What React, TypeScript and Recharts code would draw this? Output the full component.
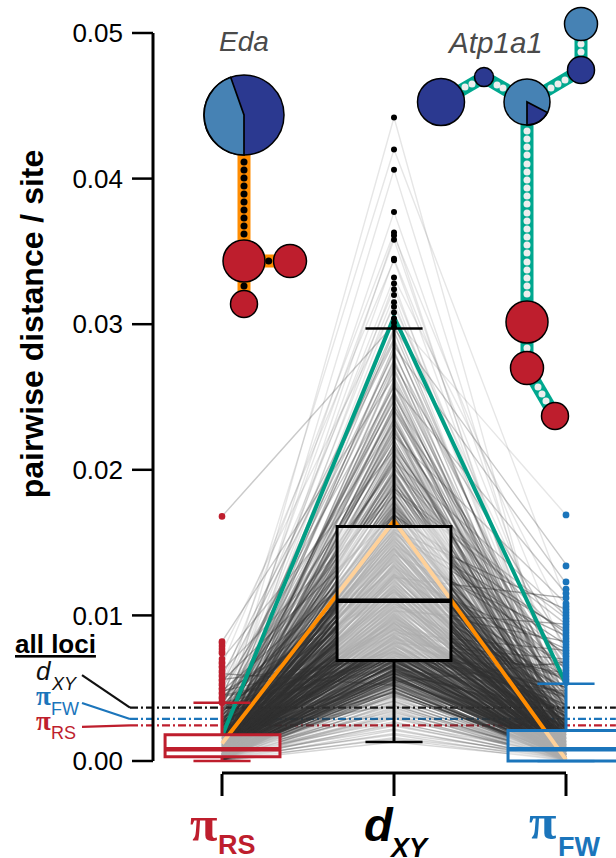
import {
	ComposedChart,
	Line,
	ReferenceArea,
	ReferenceLine,
	Scatter,
	XAxis,
	YAxis,
} from "recharts";

// all distances are in units of 1e-4 per site, the axis formats them back
const yTicks = [0, 100, 200, 300, 400, 500];
const xTicks = [0, 1, 2];

// one value per locus, same order in the three lists
const locusDxy = [
	13, 15, 16, 18, 19, 21, 22, 24, 25, 26, 27, 29, 30, 31, 32, 33, 34, 36, 37, 38,
	39, 40, 41, 42, 43, 44, 45, 46, 47, 48, 49, 50, 50, 51, 52, 53, 54, 54, 55, 56,
	56, 57, 58, 58, 59, 60, 60, 61, 62, 62, 63, 63, 64, 65, 65, 66, 66, 67, 68, 69,
	69, 70, 71, 72, 73, 74, 75, 75, 76, 77, 78, 79, 80, 81, 81, 82, 83, 84, 85, 86,
	86, 87, 88, 89, 90, 90, 91, 92, 93, 94, 95, 95, 96, 97, 98, 99, 100, 100, 101, 102,
	103, 104, 105, 105, 106, 107, 108, 109, 110, 110, 111, 112, 113, 114, 115, 116, 117, 118, 119, 120,
	121, 122, 123, 124, 125, 126, 127, 128, 129, 130, 131, 132, 133, 134, 135, 136, 137, 138, 139, 140,
	141, 142, 143, 144, 145, 146, 147, 148, 149, 150, 151, 152, 153, 154, 155, 156, 157, 158, 159, 161,
	162, 163, 165, 166, 168, 169, 171, 172, 174, 175, 177, 178, 180, 182, 183, 185, 187, 188, 190, 192,
	194, 196, 198, 200, 202, 204, 206, 208, 211, 213, 215, 218, 220, 223, 226, 229, 232, 235, 238, 241,
	244, 247, 250, 253, 257, 260, 264, 268, 272, 276, 280, 285, 290, 295, 297, 300, 304, 308, 312, 315,
	320, 324, 328, 332, 344, 345, 358, 361, 363, 377, 406, 420, 442,
	35, 58, 72, 44, 91, 63, 80, 52, 104, 67, 76, 48, 97, 59, 85, 41, 112, 70, 88, 55,
	118, 74, 61, 95, 83, 126, 66, 101, 47, 78, 134, 57, 92, 71, 109, 64, 86, 142, 53, 99,
	149, 68, 115, 81, 38, 127, 94, 60, 138, 73, 106, 50, 156, 84, 121, 65, 90, 145, 77, 111,
	170, 89, 130, 62, 152, 98, 75, 164, 108, 82, 140, 56, 178, 93, 124, 69, 158, 103, 87, 147,
	186, 96, 135, 79, 167, 113, 60, 195, 122, 72, 155, 100, 204, 83, 144, 66, 175, 117, 91, 160,
	212, 105, 150, 74, 183, 128, 86, 224, 119, 68, 169, 95, 236, 110, 141, 78, 198, 132, 63, 173,
	248, 125, 81, 190, 154, 70, 262, 136, 97, 208, 116, 58, 274, 146, 88, 221, 129, 76, 288, 163,
	102, 240, 139, 71, 201, 120, 92, 176, 61, 230, 148, 84, 193, 107, 67, 216, 133, 79, 181, 157,
	258, 143, 90, 228, 112, 54, 205, 166, 75, 244, 127, 98, 187, 64, 270, 151, 85, 218, 123, 73,
	110, 197, 62, 172, 137, 82, 254, 101, 159, 69, 210, 118, 94, 184, 77, 234, 131, 56, 168, 106,
	282, 96, 153, 71, 226, 114, 87, 199, 65, 162, 126, 80, 242, 108, 52, 179, 142, 93, 214, 120,
	74, 191, 134, 60, 252, 103, 165, 85, 207, 116, 68, 174, 146, 91, 232, 57, 128, 78, 188, 99,
];
const locusRS = [
	0, 1, 0, 2, 1, 0, 3, 1, 2, 0, 4, 1, 2, 3, 0, 1, 5, 2, 1, 3,
	2, 0, 4, 1, 6, 3, 1, 2, 8, 0, 3, 5, 2, 1, 7, 4, 2, 9, 1, 3,
	3, 6, 1, 10, 2, 4, 8, 0, 5, 12, 3, 1, 7, 2, 14, 4, 6, 1, 9, 3,
	5, 2, 11, 3, 8, 1, 15, 6, 4, 2, 18, 7, 3, 10, 1, 5, 22, 4, 9, 2,
	6, 3, 13, 1, 8, 20, 4, 10, 2, 16, 5, 7, 26, 3, 12, 1, 9, 6, 19, 4,
	8, 2, 14, 5, 24, 3, 10, 7, 30, 1, 12, 6, 17, 4, 9, 36, 2, 11, 5, 21,
	7, 3, 15, 9, 28, 4, 12, 1, 18, 6, 34, 10, 2, 23, 8, 5, 44, 13, 3, 16,
	9, 5, 20, 2, 12, 31, 7, 17, 4, 26, 10, 48, 3, 14, 8, 22, 6, 38, 11, 2,
	13, 4, 24, 8, 16, 55, 3, 19, 10, 33, 6, 28, 12, 62, 5, 21, 9, 40, 15, 7,
	18, 6, 30, 11, 42, 3, 23, 14, 8, 70, 19, 5, 35, 12, 26, 9, 50, 4, 16, 27,
	10, 32, 7, 21, 46, 13, 82, 5, 25, 17, 38, 9, 58, 15, 29, 168, 6, 20, 75, 12,
	24, 44, 11, 30, 66, 18, 35, 9, 52, 26, 15, 40, 21,
	2, 5, 1, 8, 4, 0, 10, 3, 6, 1, 12, 2, 7, 0, 4, 9, 3, 1, 5, 14,
	6, 2, 9, 0, 13, 3, 7, 1, 16, 4, 0, 11, 2, 5, 8, 18, 1, 6, 3, 10,
	12, 4, 1, 7, 20, 0, 5, 14, 2, 9, 3, 6, 24, 1, 8, 11, 4, 0, 15, 2,
	7, 3, 17, 1, 10, 5, 28, 2, 12, 0, 6, 22, 4, 9, 1, 14, 3, 8, 32, 5,
	16, 2, 6, 11, 0, 24, 4, 9, 1, 19, 7, 3, 36, 5, 13, 2, 8, 0, 27, 10,
	4, 14, 1, 30, 6, 3, 18, 9, 0, 40, 5, 12, 2, 21, 7, 1, 11, 34, 3, 15,
	26, 6, 10, 2, 16, 45, 5, 1, 22, 8, 13, 3, 38, 7, 0, 18, 4, 11, 52, 6,
	9, 24, 3, 15, 1, 7, 33, 5, 12, 2, 28, 8, 17, 4, 0, 42, 10, 6, 20, 3,
	14, 6, 30, 2, 11, 4, 23, 8, 48, 1, 16, 5, 9, 36, 3, 19, 7, 1, 26, 12,
	5, 21, 2, 10, 34, 6, 15, 3, 13, 44, 0, 8, 18, 4, 27, 7, 11, 2, 31, 6,
	17, 3, 9, 56, 1, 12, 25, 5, 38, 7, 2, 20, 10, 4, 60, 15, 6, 29, 8, 1,
	11, 4, 22, 7, 16, 2, 35, 9, 5, 47, 13, 3, 26, 6, 10, 1, 19, 8, 41, 3,
];
const locusFW = [
	1, 0, 2, 0, 3, 1, 0, 2, 1, 4, 0, 3, 1, 2, 0, 5, 1, 3, 0, 2,
	0, 3, 1, 5, 2, 0, 6, 1, 4, 2, 7, 0, 3, 1, 9, 2, 5, 0, 4, 11,
	2, 1, 7, 3, 0, 13, 4, 1, 9, 2, 5, 16, 0, 6, 3, 11, 1, 8, 20, 4,
	3, 8, 1, 14, 5, 2, 10, 24, 0, 7, 4, 18, 2, 12, 6, 1, 28, 3, 9, 5,
	7, 1, 16, 4, 33, 2, 9, 12, 5, 22, 0, 8, 14, 3, 38, 6, 10, 1, 19, 4,
	2, 11, 6, 25, 3, 15, 44, 1, 8, 17, 4, 30, 10, 5, 50, 7, 13, 2, 20, 9,
	12, 4, 27, 8, 2, 18, 58, 6, 10, 35, 3, 15, 66, 5, 22, 9, 1, 42, 13, 7,
	6, 19, 3, 46, 11, 8, 24, 74, 4, 14, 32, 2, 53, 10, 16, 80, 5, 28, 7, 12,
	15, 5, 38, 9, 21, 88, 3, 26, 11, 60, 7, 18, 4, 48, 13, 94, 8, 34, 10, 23,
	10, 30, 7, 70, 16, 4, 100, 20, 42, 12, 56, 8, 27, 108, 14, 5, 36, 18, 9, 65,
	22, 6, 52, 13, 115, 9, 31, 17, 78, 4, 44, 122, 11, 25, 135, 19, 169, 7, 60, 28,
	12, 34, 8, 96, 20, 50, 15, 72, 5, 40, 26, 110, 18,
	0, 6, 2, 11, 1, 4, 15, 0, 7, 3, 9, 1, 19, 2, 5, 0, 12, 4, 23, 8,
	3, 1, 13, 5, 0, 26, 2, 9, 4, 16, 1, 7, 31, 0, 11, 6, 3, 18, 8, 2,
	10, 2, 21, 6, 1, 14, 4, 36, 0, 8, 17, 3, 12, 5, 41, 2, 9, 25, 1, 7,
	15, 4, 0, 29, 7, 11, 2, 19, 5, 46, 3, 9, 1, 34, 13, 6, 22, 0, 10, 4,
	8, 18, 3, 39, 1, 12, 6, 25, 2, 51, 9, 4, 16, 0, 30, 7, 14, 3, 57, 5,
	21, 2, 10, 44, 6, 1, 35, 13, 4, 17, 63, 8, 3, 27, 11, 0, 20, 5, 48, 9,
	12, 3, 70, 7, 24, 1, 16, 38, 5, 9, 55, 2, 28, 14, 76, 6, 19, 4, 33, 10,
	7, 42, 2, 18, 84, 5, 12, 1, 31, 8, 22, 60, 4, 15, 3, 47, 9, 26, 6, 90,
	16, 5, 37, 1, 11, 68, 8, 24, 3, 52, 13, 6, 98, 2, 20, 43, 7, 29, 10, 4,
	27, 9, 3, 72, 14, 6, 35, 1, 104, 11, 18, 4, 58, 8, 23, 2, 40, 12, 5, 82,
	6, 31, 15, 4, 64, 2, 45, 10, 25, 7, 112, 3, 19, 50, 1, 13, 86, 5, 28, 9,
	3, 54, 11, 20, 2, 94, 7, 33, 16, 1, 66, 9, 24, 5, 38, 12, 77, 4, 47, 18,
];

// the two highlighted genes: piRS, dXY, piFW
const edaValues = [12, 165, 1];
const atp1a1Values = [17, 305, 53];

// outlier dots above the whiskers
const outliersRS = [
	40, 41, 43, 44, 46, 47, 49, 50, 52, 53, 55, 56, 58, 59, 61, 62, 64, 65, 67, 68, 70,
	74, 75, 77, 79, 81, 82, 168,
];
const outliersDxy = [
	298, 301, 304, 308, 312, 315, 320, 324, 328, 332, 344, 345, 358, 361, 363, 377, 406,
	420, 442,
];
const outliersFW = [
	54, 56, 58, 60, 62, 64, 66, 68, 70, 72, 74, 76, 78, 80, 82, 84, 86, 88, 90, 92, 94,
	96, 98, 100, 102, 104, 106, 108, 112, 115, 118, 123, 134, 169,
];

// low, q1, median, q3, high for the three box plots
const boxRS = [0, 3, 8, 18, 40];
const boxDxy = [13, 69, 110, 161, 297];
const boxFW = [0, 0, 8, 21, 53];

// genome wide means in the "all loci" key
const meanDxy = 36.6;
const meanFW = 28.9;
const meanRS = 24.4;

const RED = "#BE1E2D";
const BLUE = "#1B75BB";
const INK = "#000";
const TEAL = "#009E85";
const EDGE_TEAL = "#00A88F";
const ORANGE = "#FF8C00";
const SANS = "'Liberation Sans', Arial, sans-serif";
const SYMBOL = "'Liberation Serif', serif";

const lineRows = xTicks.map((x, col) => {
	const row: Record<string, number> = {
		x,
		eda: edaValues[col],
		atp1a1: atp1a1Values[col],
	};
	const values = [locusRS, locusDxy, locusFW][col];
	values.forEach((v, i) => {
		row["l" + i] = v;
	});
	return row;
});

const dots = (x: number, values: number[]) => values.map((y) => ({ x, y }));

const lineOpacity = (d: number) =>
	d > 300 ? 0.12 : d > 170 ? 0.26 : d < 45 ? 0.2 : 0.42;

function AxisTick(props: any) {
	const { x, y, payload } = props;
	const top = y + 7;
	const labels = [
		<text key="rs" fontFamily={SANS} fill={RED} fontWeight={700}>
			<tspan x={x - 32} y={top + 67} fontFamily={SYMBOL} fontSize={50}>
				π
			</tspan>
			<tspan x={x - 4} y={top + 80} fontSize={27}>
				RS
			</tspan>
		</text>,
		<text key="dxy" fontFamily={SANS} fill={INK} fontWeight={700} fontStyle="italic">
			<tspan x={x - 30} y={top + 67} fontSize={47}>
				d
			</tspan>
			<tspan x={x - 3} y={top + 83} fontSize={27}>
				XY
			</tspan>
		</text>,
		<text key="fw" fontFamily={SANS} fill={BLUE} fontWeight={700}>
			<tspan x={x - 37} y={top + 65} fontFamily={SYMBOL} fontSize={50}>
				π
			</tspan>
			<tspan x={x - 8} y={top + 82} fontSize={27}>
				FW
			</tspan>
		</text>,
	];
	return (
		<g>
			<line x1={x} x2={x} y1={top} y2={top + 22} stroke={INK} strokeWidth={3} />
			{labels[payload.value]}
		</g>
	);
}

function Network({ edges, color, beads, beadColor, nodes }: any) {
	return (
		<g>
			{edges.map((e: number[], i: number) => (
				<line key={i} x1={e[0]} y1={e[1]} x2={e[2]} y2={e[3]} stroke={color} strokeWidth={13} />
			))}
			{beads.map((b: number[], i: number) => (
				<circle key={i} cx={b[0]} cy={b[1]} r={3.5} fill={beadColor} />
			))}
			{nodes.map((n: any[], i: number) => (
				<circle key={i} cx={n[0]} cy={n[1]} r={n[2]} fill={n[3]} stroke="#000" strokeWidth={1.5} />
			))}
		</g>
	);
}

const DARK = "#2B3990";
const STEEL = "#4682B4";

const edaBeads = [
	[244, 162], [244, 170], [244, 178], [244, 186], [244, 194], [244, 202], [244, 210], [244, 218], [244, 226], [244, 234],
	[268.7, 261], [244, 286],
];
const atpBeads = [
	[465, 87], [472, 84], [497, 85], [503, 88], [551, 88], [558, 84], [565, 80], [581, 44], [581, 52],
	[527, 131], [527, 139], [527, 147], [527, 155], [527, 164], [527, 172], [527, 180], [527, 188], [527, 196], [527, 204], [527, 213],
	[527, 221], [527, 229], [527, 237], [527, 245], [527, 253], [527, 262], [527, 270], [527, 278], [527, 286], [527, 294],
	[527, 348], [538, 387], [542, 394], [546, 401],
];

function Overlay() {
	return (
		<svg
			width={616}
			height={858}
			style={{ position: "absolute", left: 0, top: 0, pointerEvents: "none" }}
		>
			<text x={219} y={51} fontFamily={SANS} fontStyle="italic" fontSize={28} fill="#4a4a4a">
				Eda
			</text>
			<text x={449} y={53} fontFamily={SANS} fontStyle="italic" fontSize={29.6} fill="#4a4a4a">
				Atp1a1
			</text>
			<Network
				color={ORANGE}
				beadColor="#000"
				edges={[
					[244, 150, 244, 261],
					[244, 261, 290, 261],
					[244, 261, 244, 304],
				]}
				beads={edaBeads}
				nodes={[
					[244, 115, 40, DARK],
					[244, 261, 21, RED],
					[290, 261, 16.5, RED],
					[244, 304, 13.5, RED],
				]}
			/>
			<path d="M244 115 L244 155 A40 40 0 0 1 230.7 77.3 Z" fill={STEEL} stroke="#000" strokeWidth={1.7} />
			<Network
				color={EDGE_TEAL}
				beadColor="#eee"
				edges={[
					[441, 102, 484, 77],
					[484, 77, 527, 102],
					[527, 102, 581, 70],
					[581, 70, 581, 24],
					[527, 102, 527, 322],
					[527, 322, 527, 368],
					[527, 368, 555, 416],
				]}
				beads={atpBeads}
				nodes={[
					[441, 102, 23.5, DARK],
					[484, 77, 9.5, DARK],
					[527, 102, 23, STEEL],
					[581, 70, 13.5, DARK],
					[581, 24, 16.5, STEEL],
					[527, 322, 21, RED],
					[527, 368, 16.5, RED],
					[555, 416, 13.5, RED],
				]}
			/>
			<path d="M527 102 L527 125 A23 23 0 0 0 547.4 112.6 Z" fill={DARK} stroke="#000" strokeWidth={1.7} />

			<text
				transform="translate(43 324) rotate(-90)"
				textAnchor="middle"
				fontFamily={SANS}
				fontWeight={700}
				fontSize={32}
			>
				pairwise distance / site
			</text>

			<text x={15} y={653} fontFamily={SANS} fontWeight={700} fontSize={26} textDecoration="underline">
				all loci
			</text>
			<text fontFamily={SANS} fontStyle="italic" fill="#111">
				<tspan x={36} y={680} fontSize={26}>
					d
				</tspan>
				<tspan x={52} y={690} fontSize={18}>
					XY
				</tspan>
			</text>
			<text fontFamily={SANS} fill={BLUE}>
				<tspan x={36} y={705} fontFamily={SYMBOL} fontWeight={700} fontSize={27}>
					π
				</tspan>
				<tspan x={51} y={715} fontSize={18}>
					FW
				</tspan>
			</text>
			<text fontFamily={SANS} fill={RED}>
				<tspan x={36} y={730} fontFamily={SYMBOL} fontWeight={700} fontSize={27}>
					π
				</tspan>
				<tspan x={51} y={739} fontSize={18}>
					RS
				</tspan>
			</text>
		</svg>
	);
}

function boxMarks(x: number, box: number[], color: string, left: number, right: number) {
	const [low, q1, median, q3, high] = box;
	const seg = (key: string, x1: number, y1: number, x2: number, y2: number, width: number, zIndex?: number) => (
		<ReferenceLine
			key={key}
			segment={[
				{ x: x1, y: y1 },
				{ x: x2, y: y2 },
			]}
			stroke={color}
			strokeWidth={width}
			ifOverflow="visible"
			zIndex={zIndex}
		/>
	);
	return [
		seg("up" + x, x, q3, x, high, 3),
		seg("down" + x, x, low, x, q1, 3),
		seg("capU" + x, x - 0.166, high, x + 0.166, high, 2.5, 650),
		seg("capL" + x, x - 0.166, low, x + 0.166, low, 2.5, 650),
		<ReferenceArea
			key={"box" + x}
			x1={x - left}
			x2={x + right}
			y1={q1}
			y2={q3}
			fill="#fff"
			fillOpacity={0.6}
			stroke={color}
			strokeWidth={3}
			ifOverflow="visible"
			zIndex={700}
		/>,
		seg("med" + x, x - left, median, x + right, median, 4.5, 710),
	];
}

function keySegment(key: string, x1: number, y1: number, x2: number, y2: number, color: string, dash?: string) {
	return (
		<ReferenceLine
			key={key}
			segment={[
				{ x: x1, y: y1 },
				{ x: x2, y: y2 },
			]}
			stroke={color}
			strokeWidth={2.2}
			strokeDasharray={dash}
			ifOverflow="visible"
		/>
	);
}

const DASH = "8 3 2 3";

export default function App() {
	return (
		<div style={{ position: "absolute", left: 0, top: 0, width: 616, height: 858 }}>
			<ComposedChart
				width={616}
				height={858}
				data={lineRows}
				margin={{ top: 33, right: 0, bottom: 0, left: 0 }}
			>
				<XAxis
					dataKey="x"
					type="number"
					domain={[-0.4012, 2.2907]}
					ticks={xTicks}
					axisLine={false}
					tickLine={false}
					tickMargin={0}
					height={97}
					tick={<AxisTick />}
					allowDataOverflow
				/>
				<YAxis
					dataKey="y"
					type="number"
					width={153}
					domain={[0, 500]}
					ticks={yTicks}
					tickFormatter={(v: number) => (v / 10000).toFixed(2)}
					tick={{ fontFamily: SANS, fontSize: 26, fill: "#000" }}
					tickSize={21}
					tickMargin={9}
					axisLine={{ stroke: "#000", strokeWidth: 3 }}
					tickLine={{ stroke: "#000", strokeWidth: 2.5 }}
				/>
				{keySegment("dxyDash", -0.535, meanDxy, 2.29, meanDxy, "#111", DASH)}
				{keySegment("fwDash", -0.535, meanFW, 2.29, meanFW, BLUE, DASH)}
				{keySegment("rsDash", -0.535, meanRS, 2.29, meanRS, RED, DASH)}
				{keySegment("dxyKey", -0.814, 59, -0.535, meanDxy, "#111")}
				{keySegment("fwKey", -0.814, 39.8, -0.535, meanFW, BLUE)}
				{keySegment("rsKey", -0.814, 23.4, -0.535, meanRS, RED)}
				{locusDxy.map((d, i) => (
					<Line
						key={i}
						dataKey={"l" + i}
						stroke="#333"
						strokeOpacity={lineOpacity(d)}
						strokeWidth={1.4}
						dot={false}
						activeDot={false}
						isAnimationActive={false}
						legendType="none"
					/>
				))}
				<Line dataKey="atp1a1" stroke={TEAL} strokeWidth={4} dot={false} activeDot={false} isAnimationActive={false} />
				<Line dataKey="eda" stroke={ORANGE} strokeWidth={4} dot={false} activeDot={false} isAnimationActive={false} />
				{boxMarks(1, boxDxy, INK, 0.331, 0.331)}
				{boxMarks(0, boxRS, RED, 0.331, 0.337)}
				{boxMarks(2, boxFW, BLUE, 0.337, 0.337)}
				<ReferenceLine
					segment={[
						{ x: 0, y: -8.2 },
						{ x: 2, y: -8.2 },
					]}
					stroke={INK}
					strokeWidth={3}
					ifOverflow="visible"
				/>
				<Scatter
					data={dots(0, outliersRS)}
					dataKey="y"
					isAnimationActive={false}
					shape={(p: any) => <circle cx={p.cx} cy={p.cy} r={3.3} fill={RED} />}
				/>
				<Scatter
					data={dots(1, outliersDxy)}
					dataKey="y"
					isAnimationActive={false}
					shape={(p: any) => <circle cx={p.cx} cy={p.cy} r={3} fill={INK} />}
				/>
				<Scatter
					data={dots(2, outliersFW)}
					dataKey="y"
					isAnimationActive={false}
					shape={(p: any) => <circle cx={p.cx} cy={p.cy} r={3.4} fill={BLUE} />}
				/>
			</ComposedChart>
			<Overlay />
		</div>
	);
}
